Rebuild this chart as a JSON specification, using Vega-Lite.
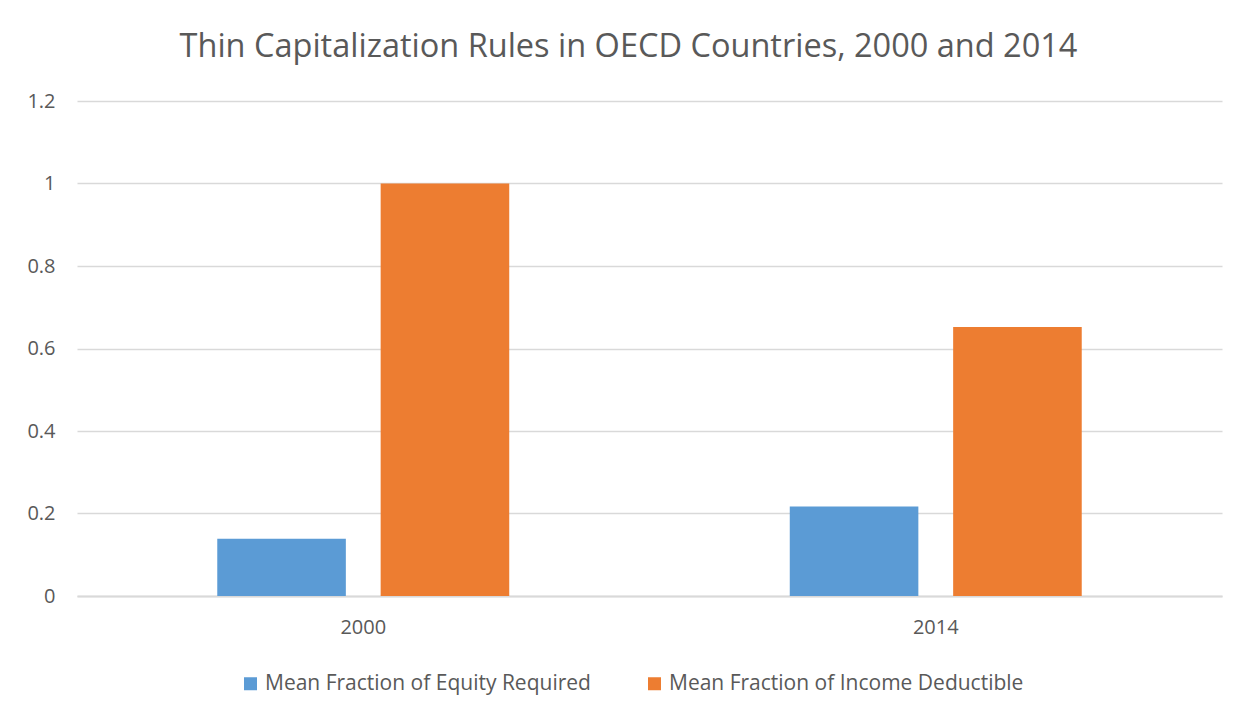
{
  "$schema": "https://vega.github.io/schema/vega-lite/v6.json",
  "width": 1145,
  "height": 495,
  "autosize": {"type": "none"},
  "padding": {"left": 77, "top": 101, "right": 28, "bottom": 121},
  "background": "white",
  "title": {
    "text": "Thin Capitalization Rules in OECD Countries, 2000 and 2014",
    "font": "Open Sans",
    "fontSize": 32.5,
    "fontWeight": "normal",
    "color": "#595959",
    "anchor": "middle",
    "dx": -21,
    "offset": 28
  },
  "data": {
    "values": [
      {"year": "2000", "series": "Mean Fraction of Equity Required", "value": 0.139},
      {"year": "2000", "series": "Mean Fraction of Income Deductible", "value": 1.0},
      {"year": "2014", "series": "Mean Fraction of Equity Required", "value": 0.217},
      {"year": "2014", "series": "Mean Fraction of Income Deductible", "value": 0.652}
    ]
  },
  "mark": {"type": "bar"},
  "encoding": {
    "x": {
      "field": "year",
      "type": "nominal",
      "title": null,
      "scale": {"paddingInner": 0.49, "paddingOuter": 0.245},
      "axis": {
        "labelAngle": 0,
        "labelFont": "Open Sans",
        "labelFontSize": 20,
        "labelColor": "#595959",
        "labelPadding": 21,
        "ticks": false,
        "domainColor": "#d9d9d9",
        "domainWidth": 2,
        "grid": false
      }
    },
    "xOffset": {
      "field": "series",
      "type": "nominal",
      "sort": ["Mean Fraction of Equity Required", "Mean Fraction of Income Deductible"],
      "scale": {"paddingInner": 0.213, "paddingOuter": 0}
    },
    "y": {
      "field": "value",
      "type": "quantitative",
      "title": null,
      "scale": {"domain": [0, 1.2], "nice": false},
      "axis": {
        "values": [0, 0.2, 0.4, 0.6, 0.8, 1, 1.2],
        "format": "~g",
        "labelFont": "Open Sans",
        "labelFontSize": 20,
        "labelColor": "#595959",
        "labelPadding": 22,
        "ticks": false,
        "domain": false,
        "grid": true,
        "gridColor": "#d9d9d9",
        "gridWidth": 1.3
      }
    },
    "color": {
      "field": "series",
      "type": "nominal",
      "sort": ["Mean Fraction of Equity Required", "Mean Fraction of Income Deductible"],
      "scale": {
        "domain": ["Mean Fraction of Equity Required", "Mean Fraction of Income Deductible"],
        "range": ["#5B9BD5", "#ED7D31"]
      },
      "legend": {
        "title": null,
        "orient": "none",
        "direction": "horizontal",
        "legendX": 163,
        "legendY": 572,
        "symbolType": "square",
        "symbolSize": 169,
        "symbolStrokeWidth": 0,
        "labelFont": "Open Sans",
        "labelFontSize": 21,
        "labelColor": "#595959",
        "labelOffset": 4,
        "columnPadding": 53,
        "labelLimit": 500
      }
    }
  },
  "config": {
    "view": {"stroke": null}
  }
}
